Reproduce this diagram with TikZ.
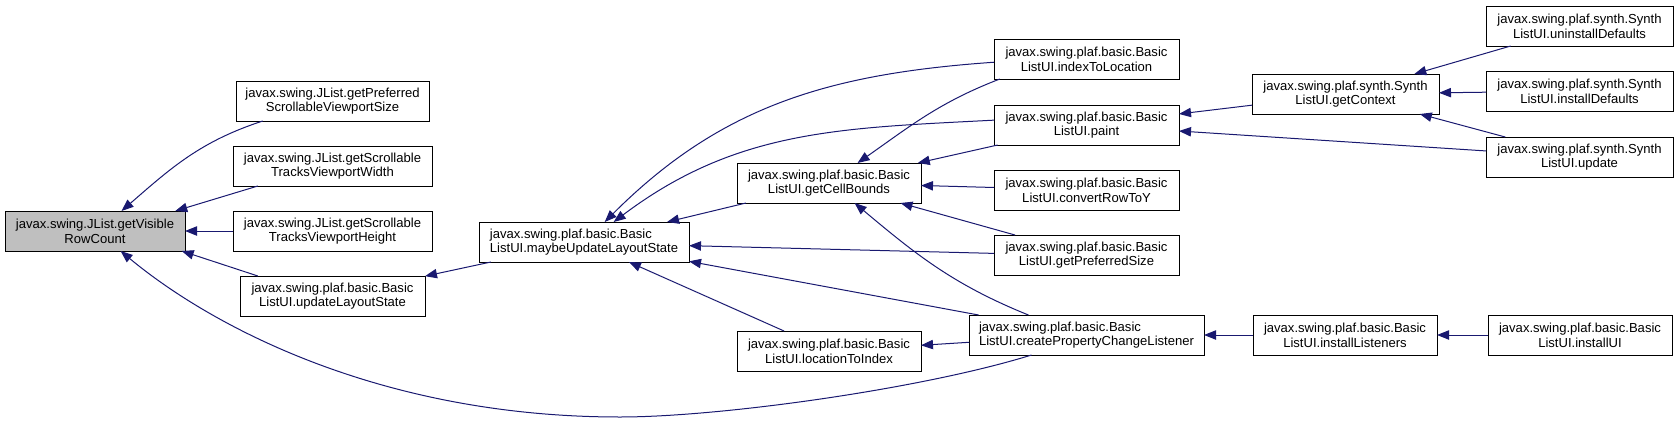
\documentclass[tikz,border=0pt]{standalone}
\usepackage{fontspec}
\setmainfont{Liberation Sans}
\usetikzlibrary{arrows.meta}
\definecolor{dxnavy}{RGB}{25,25,112}
\definecolor{dxgray}{RGB}{191,191,191}

\begin{document}
\begin{tikzpicture}[x=0.75pt,y=-0.75pt,
  fn/.style={draw=black,line width=0.75pt,inner sep=0pt,outer sep=0pt,
    minimum width=138.75pt,minimum height=30pt,align=center,
    font=\fontsize{9.8}{11}\selectfont},
  edge/.style={dxnavy,line width=0.75pt,-{Triangle[length=9pt,width=7pt]}}]
  \useasboundingbox (0,0) rectangle (1679,422);
  % Root node
  \node[fn,fill=dxgray,minimum width=135pt] (root) at (95,231) {javax.swing.JList.getVisible\\RowCount};
  % JList callers
  \node[fn,minimum width=144.75pt] (prefsize) at (332.5,101) {javax.swing.JList.getPreferred\\ScrollableViewportSize};
  \node[fn,minimum width=149.25pt] (trackw) at (332.5,166) {javax.swing.JList.getScrollable\\TracksViewportWidth};
  \node[fn,minimum width=149.25pt] (trackh) at (332.5,231) {javax.swing.JList.getScrollable\\TracksViewportHeight};
  \node[fn] (updls) at (332.5,296) {javax.swing.plaf.basic.Basic\\ListUI.updateLayoutState};
  \node[fn,minimum width=157.5pt,align=left] (maybe) at (584,242) {javax.swing.plaf.basic.Basic\\ListUI.maybeUpdateLayoutState};
  %
  % BasicListUI
  \node[fn,minimum width=138pt] (cellb) at (829,183) {javax.swing.plaf.basic.Basic\\ListUI.getCellBounds};
  \node[fn,minimum width=138pt] (locidx) at (829,351) {javax.swing.plaf.basic.Basic\\ListUI.locationToIndex};
  \node[fn] (idxloc) at (1086.5,59) {javax.swing.plaf.basic.Basic\\ListUI.indexToLocation};
  \node[fn] (paint) at (1086.5,125) {javax.swing.plaf.basic.Basic\\ListUI.paint};
  \node[fn] (rowtoy) at (1086.5,190) {javax.swing.plaf.basic.Basic\\ListUI.convertRowToY};
  \node[fn] (prefsz) at (1086.5,255) {javax.swing.plaf.basic.Basic\\ListUI.getPreferredSize};
  \node[fn,minimum width=176.25pt,align=left] (createpcl) at (1086.5,335) {javax.swing.plaf.basic.Basic\\ListUI.createPropertyChangeListener};
  %
  % Synth and install
  \node[fn,minimum width=140.25pt] (getctx) at (1345.5,94) {javax.swing.plaf.synth.Synth\\ListUI.getContext};
  \node[fn,minimum width=138pt] (instlis) at (1345,335) {javax.swing.plaf.basic.Basic\\ListUI.installListeners};
  \node[fn,minimum width=140.25pt] (uninst) at (1579.5,26) {javax.swing.plaf.synth.Synth\\ListUI.uninstallDefaults};
  \node[fn,minimum width=140.25pt] (instdef) at (1579.5,91) {javax.swing.plaf.synth.Synth\\ListUI.installDefaults};
  \node[fn,minimum width=140.25pt] (update) at (1579.5,157) {javax.swing.plaf.synth.Synth\\ListUI.update};
  \node[fn,minimum width=138pt] (instui) at (1580,335) {javax.swing.plaf.basic.Basic\\ListUI.installUI};
  %
  % Straight calls
  \foreach \a/\b in {trackh/root,maybe/updls,cellb/maybe,createpcl/maybe,locidx/maybe,
    paint/cellb,rowtoy/cellb,prefsz/cellb,createpcl/locidx,getctx/paint,update/paint,
    uninst/getctx,instdef/getctx,update/getctx,instlis/createpcl,instui/instlis} {
    \draw[edge] (\a) -- (\b);
  }
  \draw[edge] (trackw.195) -- (root.14);
  \draw[edge] (updls.165) -- (root.-13);
  \draw[edge] (prefsz.179) -- (maybe.-2);
  %
  % Curved calls
  \draw[edge] (prefsize.196) to[out=198,in=41] (root.37);
  \draw[edge] (idxloc.182) to[out=184,in=45] (maybe.44);
  \draw[edge] (paint.177) to[out=183,in=37] (maybe.34);
  \draw[edge] (idxloc.193) to[out=201,in=35] (cellb.35);
  \draw[edge] (createpcl.161) to[out=158,in=-40] (cellb.-38);
  \coordinate (dip) at (620,417);
  \draw[edge] (createpcl.200) .. controls (922,389) and (720,417) .. (dip)
    .. controls (380,417) and (211,326) .. (root.-38);
\end{tikzpicture}
\end{document}
